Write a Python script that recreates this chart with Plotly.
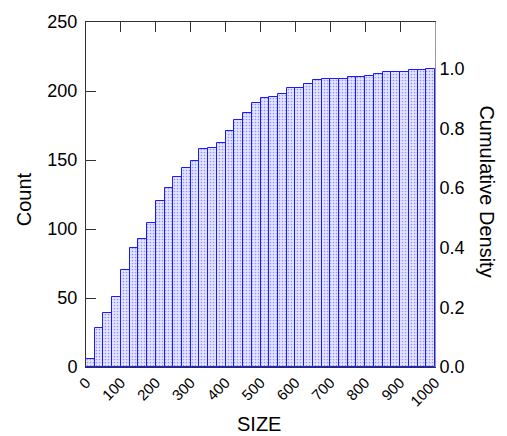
import plotly.graph_objects as go

# ---- data ----
bin_left = list(range(0, 1000, 25))          # 40 bins of width 25
cum_counts = [6, 28, 39, 51, 70, 86, 93, 104, 120, 130,
              138, 144, 149, 158, 159, 162, 171, 179, 184, 191,
              195, 196, 198, 202, 202, 205, 208, 209, 209, 209,
              210, 210, 211, 212, 214, 214, 214, 215, 215, 216]
total = 216
bin_width = 25
x_ticks = list(range(0, 1001, 100))
count_ticks = [0, 50, 100, 150, 200, 250]
density_ticks = [0.0, 0.2, 0.4, 0.6, 0.8, 1.0]

centers = [b + bin_width / 2 for b in bin_left]
density = [c / total for c in cum_counts]

FONT = "Liberation Sans, Arial, sans-serif"

fig = go.Figure()
fig.add_trace(go.Bar(
    x=centers, y=cum_counts, width=bin_width,
    marker=dict(
        color="#e2e2ff",
        line=dict(color="#1a1aff", width=1),
        pattern=dict(shape=".", fgcolor="#3a3aff", bgcolor="#e6e6ff",
                     size=3, solidity=0.25),
    ),
    showlegend=False, hoverinfo="skip",
))
fig.add_trace(go.Scatter(
    x=centers, y=density, yaxis="y2", mode="none",
    showlegend=False, hoverinfo="skip",
))

fig.update_layout(
    width=507, height=436,
    margin=dict(l=86, r=72, t=19, b=69),
    paper_bgcolor="white", plot_bgcolor="white",
    bargap=0,
    font=dict(family=FONT, color="black"),
    xaxis=dict(
        range=[0, 1000], tickvals=x_ticks, tickangle=-45,
        tickfont=dict(size=15),
        ticks="inside", ticklen=10, tickcolor="#333",
        showline=True, linecolor="#333", linewidth=1, mirror="ticks",
        showgrid=False, zeroline=False, layer="below traces",
    ),
    yaxis=dict(
        range=[0, 250], tickvals=count_ticks,
        tickfont=dict(size=18),
        ticks="inside", ticklen=10, tickcolor="#333",
        showline=True, linecolor="#333", linewidth=1,
        showgrid=False, zeroline=False, layer="below traces",
        ticklabelstandoff=4,
    ),
    yaxis2=dict(
        overlaying="y", side="right",
        range=[0, 250 / total], tickvals=density_ticks, tickformat=".1f",
        tickfont=dict(size=18),
        ticks="", showline=True, linecolor="#999", linewidth=1,
        showgrid=False, zeroline=False, layer="below traces",
    ),
    annotations=[
        dict(text="Count", xref="paper", yref="paper", x=-0.178, y=0.486,
             textangle=-90, showarrow=False, font=dict(size=20),
             xanchor="center", yanchor="middle"),
        dict(text="Cumulative Density", xref="paper", yref="paper",
             x=1.149, y=0.509, textangle=90, showarrow=False,
             font=dict(size=20), xanchor="center", yanchor="middle"),
        dict(text="SIZE", xref="paper", yref="paper", x=0.496, y=-0.164,
             showarrow=False, font=dict(size=20),
             xanchor="center", yanchor="middle"),
    ],
)

fig.write_html("out.html")
